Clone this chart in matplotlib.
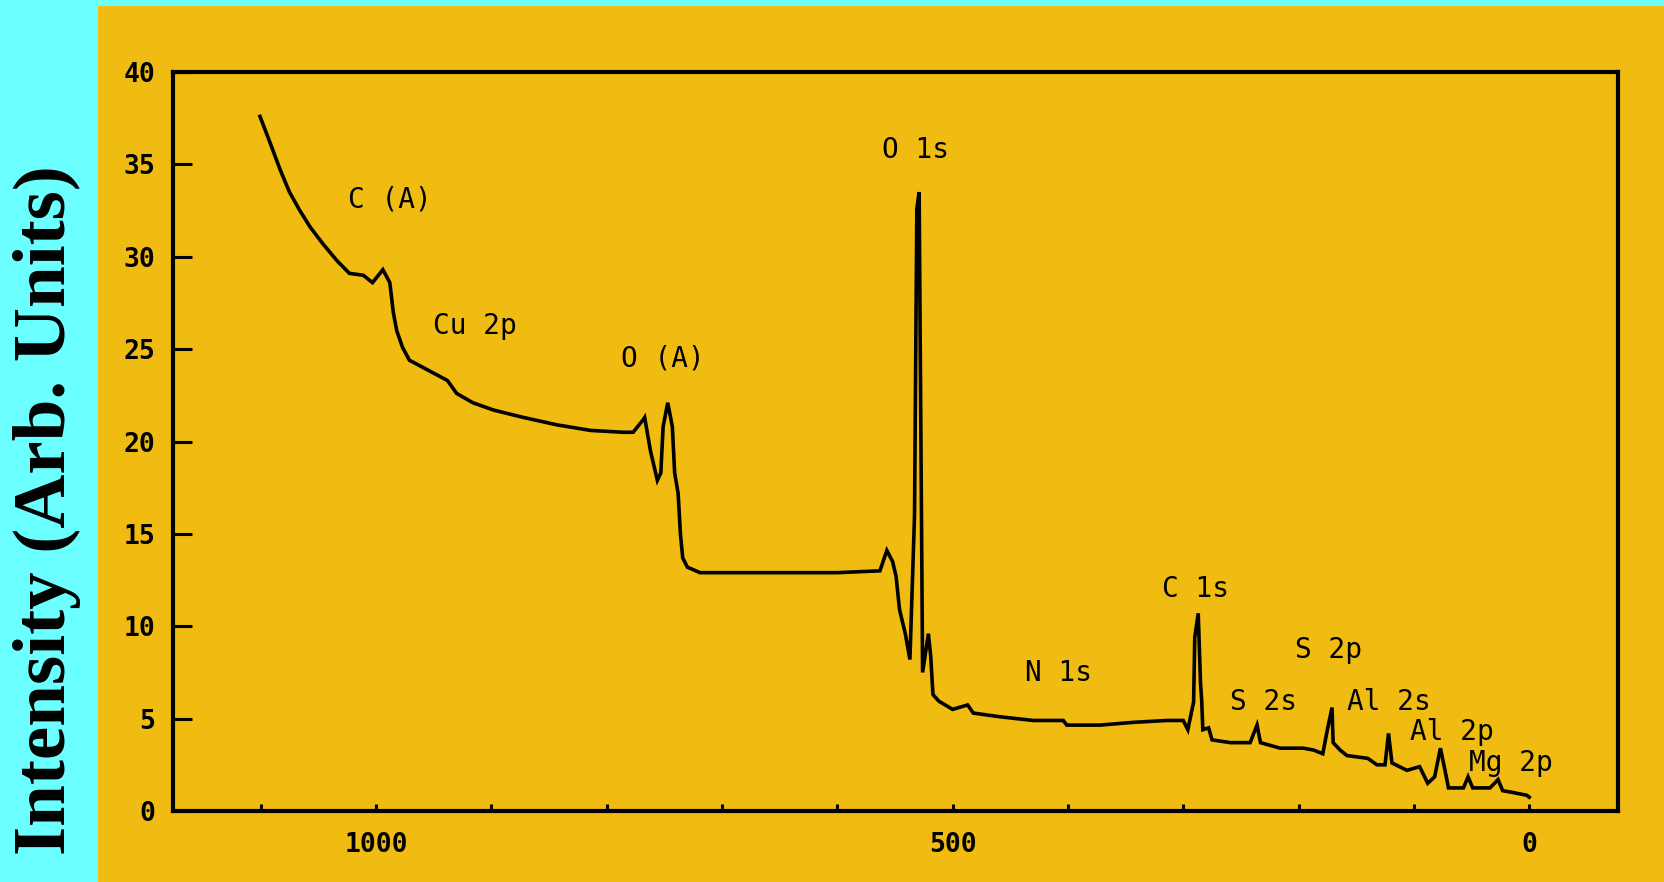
import matplotlib
matplotlib.use("Agg")
import matplotlib.pyplot as plt
from matplotlib.patches import Rectangle
from matplotlib.ticker import MultipleLocator, FixedLocator

# ---- data ----
binding_energy = [1100.6, 1092, 1083, 1075, 1066, 1057, 1046, 1034, 1023, 1011,
                  1003, 994, 988, 985, 982, 977, 971, 956, 938, 930,
                  916, 898, 872, 843, 814, 786, 777, 768, 767, 762,
                  756, 753, 751, 747, 743, 741, 738, 736, 734, 730,
                  719, 600, 563, 557, 552, 549, 546, 541, 537, 533,
                  531, 529, 526, 521, 519, 517, 512, 500, 487, 482,
                  459, 430, 404, 401, 372, 343, 314, 300, 296, 291,
                  290, 287, 285, 284, 283, 278, 275, 259, 242, 236,
                  233, 216, 196, 187, 179, 175, 171, 170, 164, 158,
                  140, 132, 125, 122, 119, 106, 95, 88, 82, 77,
                  73, 70, 57, 53, 49, 34, 27, 23, 14, 2, 0]
intensity = [37.6, 36.2, 34.7, 33.5, 32.5, 31.6, 30.7, 29.8, 29.1, 29.0,
             28.6, 29.3, 28.6, 27.0, 26.0, 25.1, 24.4, 23.9, 23.3, 22.6,
             22.1, 21.7, 21.3, 20.9, 20.6, 20.5, 20.5, 21.2, 21.3, 19.5,
             17.9, 18.3, 20.8, 22.1, 20.8, 18.3, 17.2, 15.0, 13.7, 13.2,
             12.9, 12.9, 13.0, 14.1, 13.5, 12.7, 10.9, 9.6, 8.2, 16.0,
             32.6, 33.5, 7.5, 9.6, 8.4, 6.3, 5.95, 5.5, 5.74, 5.3,
             5.1, 4.9, 4.9, 4.65, 4.65, 4.8, 4.9, 4.9, 4.4, 5.9,
             9.4, 10.7, 6.9, 6.0, 4.4, 4.5, 3.85, 3.7, 3.7, 4.65,
             3.7, 3.4, 3.4, 3.3, 3.1, 4.4, 5.6, 3.7, 3.3, 3.0,
             2.85, 2.5, 2.5, 4.2, 2.6, 2.2, 2.4, 1.5, 1.85, 3.4,
             2.2, 1.25, 1.25, 1.85, 1.25, 1.25, 1.7, 1.1, 1.0, 0.85, 0.75]

peak_labels = ["C (A)", "Cu 2p", "O (A)", "O 1s", "C 1s", "N 1s",
               "S 2p", "S 2s", "Al 2s", "Al 2p", "Mg 2p"]
peak_label_x = [988, 914, 751, 532, 289, 408, 174, 230, 122, 67, 16]
peak_label_y = [33.1, 26.25, 24.5, 35.8, 12.0, 7.47, 8.7, 5.9, 5.9, 4.3, 2.6]

y_ticks = [0, 5, 10, 15, 20, 25, 30, 35, 40]
x_ticks = [1000, 500, 0]

# ---- styling ----
BG = "#F0BC12"
CYAN = "#6CFFFF"
W, H = 1664, 882

fig = plt.figure(figsize=(W / 100, H / 100), dpi=100, facecolor=BG)
# cyan strips (left and top)
fig.patches.append(Rectangle((0, 0), 98 / W, 1, transform=fig.transFigure,
                             facecolor=CYAN, edgecolor="none", zorder=-5))
fig.patches.append(Rectangle((0, 1 - 6 / H), 1, 6 / H, transform=fig.transFigure,
                             facecolor=CYAN, edgecolor="none", zorder=-5))

ax = fig.add_axes([173 / W, 1 - 811 / H, (1618 - 173) / W, (811 - 72) / H])
ax.set_zorder(2)
ax.set_facecolor(BG)
ax.plot(binding_energy, intensity, color="black", lw=2.6,
        solid_joinstyle="miter")

ax.set_xlim(1176, -77)
ax.set_ylim(0, 40)

for s in ax.spines.values():
    s.set_linewidth(3.0)
    s.set_color("black")

mono = "DejaVu Sans Mono"
ax.yaxis.set_major_locator(FixedLocator(y_ticks))
ax.set_yticklabels([str(v) for v in y_ticks], family=mono,
                   fontweight="bold", fontsize=19)
ax.xaxis.set_major_locator(FixedLocator(x_ticks))
ax.xaxis.set_minor_locator(MultipleLocator(100))
ax.set_xticklabels([str(v) for v in x_ticks], family=mono,
                   fontweight="bold", fontsize=19)
ax.tick_params(axis="y", which="major", direction="in", length=14,
               width=2.2, pad=13, colors="black")
ax.tick_params(axis="x", which="both", direction="in", length=5,
               width=2.2, pad=15, colors="black")

for lab, lx, ly in zip(peak_labels, peak_label_x, peak_label_y):
    ax.text(lx, ly, lab, ha="center", va="center", family=mono,
            fontsize=20, color="black")

fig.text(47 / W, 1 - 510 / H, "Intensity (Arb. Units)", rotation=90,
         ha="center", va="center", family="Liberation Serif",
         fontweight="bold", fontsize=54, color="black")

fig.savefig("out.png", dpi=100, facecolor=BG)
